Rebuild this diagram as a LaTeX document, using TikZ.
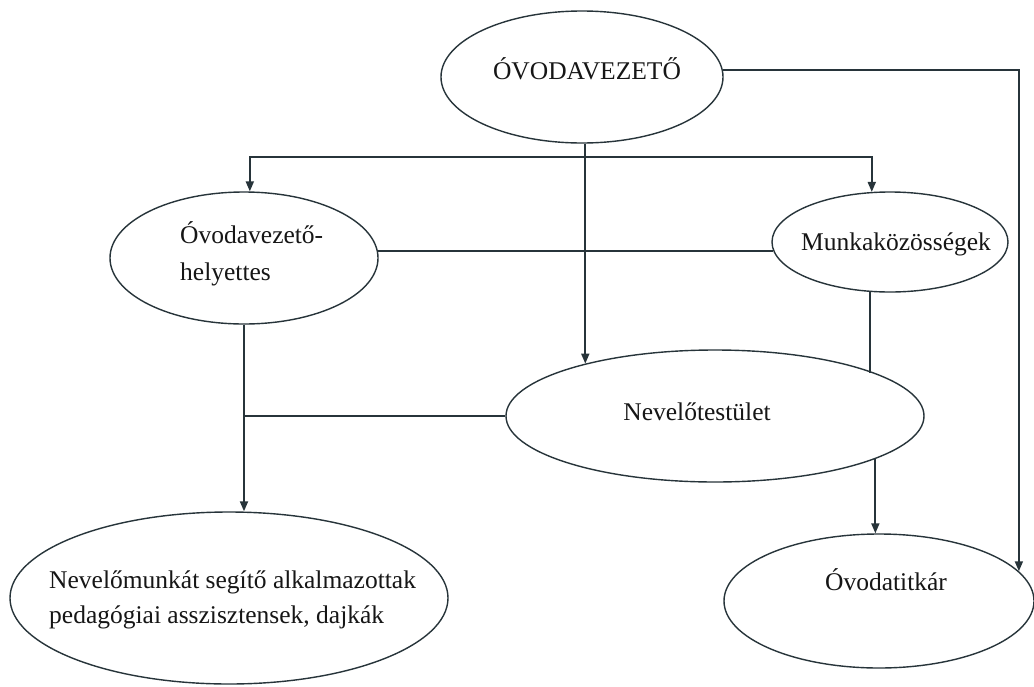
\documentclass[tikz,border=0pt]{standalone}
\usepackage{fontspec}
\setmainfont{Liberation Serif}
\usetikzlibrary{shapes.geometric,arrows.meta}
\definecolor{linec}{HTML}{27343A}
\definecolor{textc}{HTML}{161616}
\tikzset{
  ell/.style={ellipse, draw=linec, line width=1.4pt, inner sep=0pt, fill=white},
  lbl/.style={text=textc, inner sep=0pt, font=\fontsize{25.5}{35}\selectfont},
  conn/.style={draw=linec, line width=1.8pt},
  arr/.style={conn, -{Triangle[length=10pt,width=8pt]}}
}
\begin{document}
\begin{tikzpicture}[x=1pt,y=-1pt]
\useasboundingbox[fill=white] (0,0) rectangle (1034,686);
% ellipses
\node[ell, minimum width=282pt, minimum height=132pt] (ovez) at (582,77) {};
\node[ell, minimum width=268pt, minimum height=132pt] (hely) at (244,258) {};
\node[ell, minimum width=236pt, minimum height=100pt] (munka) at (890,242) {};
\node[ell, minimum width=418pt, minimum height=132pt] (nev) at (715,416) {};
\node[ell, minimum width=438pt, minimum height=172pt] (nm) at (229,598) {};
\node[ell, minimum width=310pt, minimum height=134pt] (tit) at (879,601) {};
% texts
\node[lbl, anchor=base] (tovez) at (587,79) {ÓVODAVEZETŐ};
\node[lbl, anchor=base west, align=left, font=\fontsize{25.5}{37}\selectfont] (thely) at (180,280) {Óvodavezető-\\helyettes};
\node[lbl, anchor=base] (tmunka) at (896,250) {Munkaközösségek};
\node[lbl, anchor=base] (tnev) at (697,420) {Nevelőtestület};
\node[lbl, anchor=base west, align=left] (tnm) at (49,623) {Nevelőmunkát segítő alkalmazottak\\pedagógiai asszisztensek, dajkák};
\node[lbl, anchor=base] (ttit) at (886,590) {Óvodatitkár};
% connectors
\coordinate (hub) at (nev.158.7 |- 0,157);
\draw[conn] (nev.158.7 |- ovez.south) -- (hub);
\draw[arr] (hub) -- (nev.158.7);
\draw[arr] (hub) -| (hely.85);
\draw[arr] (hub) -| (munka.110);
\draw[conn] (hely.3.4) -- (hely.3.4 -| munka.184.4);
\draw[arr] (hely.south) -- (hely.south |- nm.north);
\draw[conn] (nev.west) -- (nev.west -| hely.south);
\draw[conn] (munka.248.9) -- (munka.248.9 |- nev.15.75);
\draw[arr] (nev.-15.75) -- (nev.-15.75 |- tit.north);
\draw[arr] (ovez.3.3) -| (tit.12);
\end{tikzpicture}
\end{document}
